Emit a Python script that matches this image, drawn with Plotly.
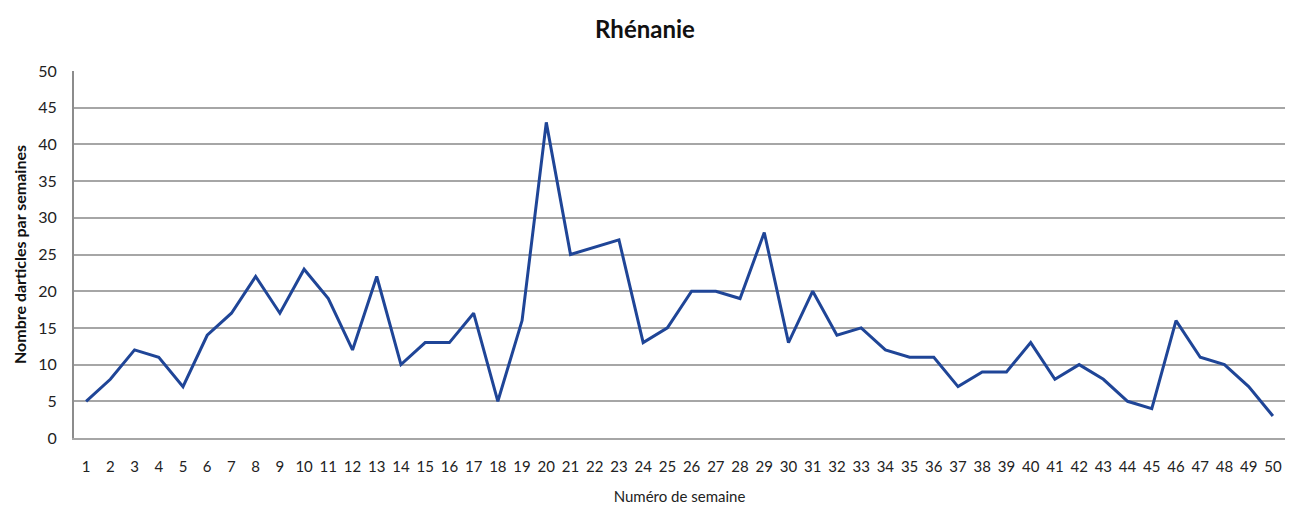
import plotly.graph_objects as go

# Weekly article counts
weeks = [str(i) for i in range(1, 51)]
articles = [5, 8, 12, 11, 7, 14, 17, 22, 17, 23,
            19, 12, 22, 10, 13, 13, 17, 5, 16, 43,
            25, 26, 27, 13, 15, 20, 20, 19, 28, 13,
            20, 14, 15, 12, 11, 11, 7, 9, 9, 13,
            8, 10, 8, 5, 4, 16, 11, 10, 7, 3]
y_ticks = [0, 5, 10, 15, 20, 25, 30, 35, 40, 45, 50]

fig = go.Figure()
fig.add_trace(go.Scatter(
    x=weeks, y=articles, mode="lines",
    line=dict(color="#1f4597", width=3),
    showlegend=False,
))

font_family = "Lato, 'Open Sans', sans-serif"

fig.update_layout(
    width=1302, height=510,
    margin=dict(l=74, r=17, t=71, b=72),
    paper_bgcolor="white", plot_bgcolor="white",
    font=dict(family=font_family, color="#222222"),
    title=dict(text="<b>Rhénanie</b>", x=645 / 1302, xanchor="center",
               y=1 - 30 / 510, yanchor="middle",
               font=dict(size=24, color="#111111", family=font_family)),
    xaxis=dict(
        type="category", range=[-0.5, 49.5],
        tickvals=weeks, ticktext=weeks,
        showgrid=False, showline=True, linecolor="#a6a6a6", linewidth=2,
        ticks="", automargin=False,
        tickfont=dict(size=15, color="#222222"),
        ticklabelstandoff=14,
        title=dict(text="Numéro de semaine", font=dict(size=15, color="#222222"),
                   standoff=17),
    ),
    yaxis=dict(
        range=[0, 50], tickvals=y_ticks,
        showgrid=True, gridcolor="#a6a6a6", gridwidth=2,
        showline=True, linecolor="#8c8c8c", linewidth=2,
        zeroline=False, ticks="", automargin=False,
        tickfont=dict(size=16, color="#222222"),
        ticklabelstandoff=12,
        title=dict(text="<b>Nombre darticles par semaines</b>",
                   font=dict(size=16, color="#111111"), standoff=8),
    ),
)

fig.write_html("out.html")
